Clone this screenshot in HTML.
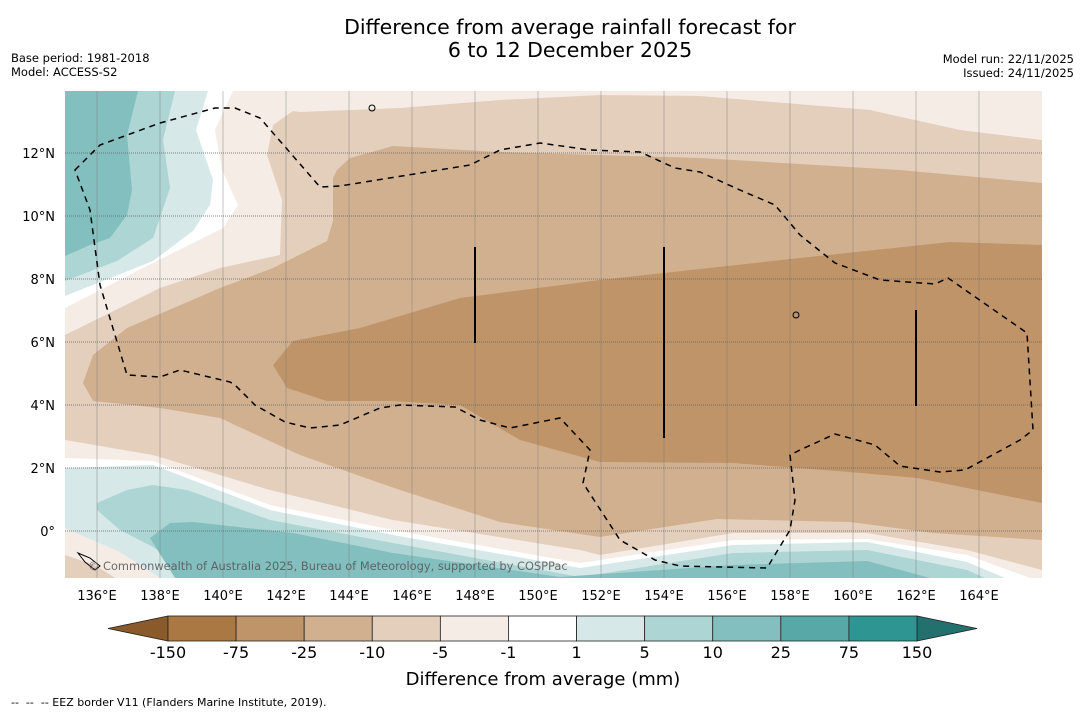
<!DOCTYPE html>
<html><head><meta charset="utf-8">
<style>
html,body{margin:0;padding:0;background:#fff;}
body{width:1085px;height:713px;overflow:hidden;font-family:"DejaVu Sans","Liberation Sans",sans-serif;}
svg text{font-family:"DejaVu Sans","Liberation Sans",sans-serif;}
</style></head>
<body>
<svg id="chart" width="1085" height="713" viewBox="0 0 1085 713" xmlns="http://www.w3.org/2000/svg">
<text x="570" y="34" font-size="20.5" text-anchor="middle" fill="#000">Difference from average rainfall forecast for</text>
<text x="570" y="57" font-size="20.5" text-anchor="middle" fill="#000">6 to 12 December 2025</text>
<text x="11" y="62" font-size="11.5">Base period: 1981-2018</text>
<text x="11" y="76" font-size="11.5">Model: ACCESS-S2</text>
<text x="1074" y="63" font-size="11.5" text-anchor="end">Model run: 22/11/2025</text>
<text x="1074" y="77" font-size="11.5" text-anchor="end">Issued: 24/11/2025</text>
<defs><clipPath id="mapclip"><rect x="65" y="91" width="977" height="487"/></clipPath></defs>
<g id="map" clip-path="url(#mapclip)">
<rect x="65" y="91" width="977" height="487" fill="#e4cfbd"/>
<path fill="#f5ece6" d="M65,91 L1042,91 L1042,140 L960,130 L870,110 L700,96 L600,95 L500,100 L400,108 L300,112 L293,111 L273,125 L267,155 L282,200 L280,255 L220,268 L160,288 L65,335 Z"/>
<path fill="#ffffff" d="M65,91 L233,91 L215,130 L222,170 L238,205 L223,228 L143,268 L65,308 Z"/>
<path fill="#d6e9e8" d="M65,91 L208,91 L196,130 L213,180 L210,205 L193,231 L153,261 L65,296 Z"/>
<path fill="#acd5d4" d="M65,91 L175,91 L163,140 L170,188 L153,238 L117,261 L65,281 Z"/>
<path fill="#84bfbf" d="M65,91 L138,91 L127,135 L132,190 L127,215 L110,238 L90,245 L65,256 Z"/>
<path fill="#f5ece6" d="M65,440 L153,455 L270,490 L393,520 L580,550 L600,555 L733,533 L867,533 L967,550 L1042,570 L1042,578 L65,578 Z"/>
<path fill="#ffffff" d="M65,458 L153,461 L270,505 L393,530 L580,563 L733,540 L867,539 L967,555 L1030,578 L65,578 Z"/>
<path fill="#d6e9e8" d="M65,468 L153,465 L270,510 L393,535 L580,568 L733,545 L867,542 L967,562 L1005,578 L65,578 Z"/>
<path fill="#acd5d4" d="M97,503 L127,490 L153,485 L187,490 L270,520 L393,543 L580,577 L733,553 L867,550 L967,570 L985,578 L200,578 L193,573 L153,547 L120,530 L97,510 Z"/>
<path fill="#84bfbf" d="M150,538 L170,523 L193,522 L293,533 L393,553 L560,577 L733,565 L867,561 L930,578 L175,578 Z"/>
<path fill="#f5ece6" d="M65,528 L120,552 L160,578 L65,578 Z"/>
<path fill="#e4cfbd" d="M65,555 L95,565 L115,578 L65,578 Z"/>
<path fill="#d1b08f" d="M393,146 L500,152 L700,158 L900,170 L1042,183 L1042,540 L933,533 L850,522 L717,519 L600,537 L500,522 L400,490 L300,455 L220,418 L160,408 L93,401 L83,383 L93,355 L127,328 L220,288 L273,268 L327,241 L333,221 L333,178 L337,170 L350,158 Z"/>
<path fill="#bf9468" d="M273,365 L293,341 L360,328 L460,298 L600,280 L800,258 L950,242 L1042,245 L1042,503 L917,478 L850,472 L733,463 L600,462 L520,440 L460,405 L393,401 L327,401 L287,388 Z"/>
</g>
<g id="gridlines"></g>
<g id="eez" clip-path="url(#mapclip)">
<path fill="none" stroke="#000" stroke-width="1.5" stroke-dasharray="6,5" d="M75,170 L100,145 L160,123 L215,108 L235,108 L260,118 L320,187 L340,186 L470,165 L500,150 L540,143 L590,150 L640,152 L675,168 L700,172 L740,190 L775,205 L800,235 L835,263 L880,280 L935,284 L948,278 L1027,333 L1033,430 L1020,440 L965,470 L940,472 L900,466 L875,445 L835,434 L800,450 L790,455 L795,500 L790,530 L767,568 L680,566 L655,560 L620,540 L583,483 L590,450 L560,418 L510,428 L480,420 L455,407 L400,405 L380,408 L340,425 L310,428 L285,422 L255,405 L235,385 L230,382 L180,370 L160,377 L127,375 L100,285 L90,210 Z"/>
<line x1="475" y1="247" x2="475" y2="343" stroke="#000" stroke-width="2"/>
<line x1="664" y1="247" x2="664" y2="438" stroke="#000" stroke-width="2"/>
<line x1="916" y1="310" x2="916" y2="406" stroke="#000" stroke-width="2"/>
<path d="M78,553 L90,558 L100,566 L95,570 L85,562 Z" fill="none" stroke="#000" stroke-width="1"/>
<circle cx="796" cy="315" r="3" fill="none" stroke="#000"/>
<circle cx="372" cy="108" r="3" fill="none" stroke="#000"/>
</g>
<text x="88" y="570" font-size="11.4" fill="#555" opacity="0.85">© Commonwealth of Australia 2025, Bureau of Meteorology, supported by COSPPac</text>
<g id="axes"></g>
<g id="colorbar"></g>
<text x="543" y="685" font-size="18" text-anchor="middle">Difference from average (mm)</text>
<text x="11" y="706" font-size="11" xml:space="preserve" style="white-space:pre">--  --  -- EEZ border V11 (Flanders Marine Institute, 2019).</text>
</svg>
<script>
const lonTicks = [136,138,140,142,144,146,148,150,152,154,156,158,160,162,164];
const latTicks = [0,2,4,6,8,10,12];
const cbLevels = ["-150","-75","-25","-10","-5","-1","1","5","10","25","75","150"];
const cbColors = ["#a97843","#bf9468","#d1b08f","#e4cfbd","#f5ece6","#ffffff","#d6e9e8","#acd5d4","#84bfbf","#58a8a7","#2e9592"];
const cbExtendColors = ["#8b5a2b","#24706f"];

const NS="http://www.w3.org/2000/svg";
const MAP={x0:65,x1:1042,y0:91,y1:578};
function xLon(l){return 97+(l-136)*31.5;}
function yLat(l){return 531-l*31.5;}
function mk(tag,attrs,parent){const e=document.createElementNS(NS,tag);for(const k in attrs)e.setAttribute(k,attrs[k]);parent.appendChild(e);return e;}
const grid=document.getElementById('gridlines');
const axes=document.getElementById('axes');
lonTicks.forEach(l=>{
  const x=xLon(l);
  const g=mk('line',{x1:x,x2:x,y1:MAP.y0,y2:MAP.y1,stroke:'#777',"stroke-width":0.6,opacity:0.7},grid);
  
  
  const t=mk('text',{x:x,y:600,"font-size":13,"text-anchor":"middle"},axes);
  t.textContent=l+'°E';
  
  
});
latTicks.forEach(l=>{
  const y=yLat(l);
  const g=mk('line',{x1:MAP.x0,x2:MAP.x1,y1:y,y2:y,stroke:'#666',"stroke-width":1,"stroke-dasharray":"1,1",opacity:0.8},grid);
  
  
  const t=mk('text',{x:55,y:y+5,"font-size":13,"text-anchor":"end"},axes);
  t.textContent=l===0?'0°':l+'°N';
  
  
});
const cb=document.getElementById('colorbar');
const cbx0=168,cbx1=917,cby=616,cbh=25;
const segW=(cbx1-cbx0)/cbColors.length;
function xCb(i){return cbx0+i*segW;}
const lt=mk('polygon',{points:`${cbx0},${cby} ${cbx0},${cby+cbh} 108,${cby+cbh/2}`,fill:cbExtendColors[0],stroke:'#222',"stroke-width":0.8},cb);


const rt=mk('polygon',{points:`${cbx1},${cby} ${cbx1},${cby+cbh} 977,${cby+cbh/2}`,fill:cbExtendColors[1],stroke:'#222',"stroke-width":0.8},cb);


cbColors.forEach((c,i)=>{
  const r=mk('rect',{x:xCb(i),y:cby,width:segW,height:cbh,fill:c,stroke:'#222',"stroke-width":0.8},cb);
  
  
});
cbLevels.forEach((v,i)=>{
  const t=mk('text',{x:xCb(i),y:658,"font-size":16,"text-anchor":"middle"},cb);
  t.textContent=v;
  
  
});
</script>
</body></html>
